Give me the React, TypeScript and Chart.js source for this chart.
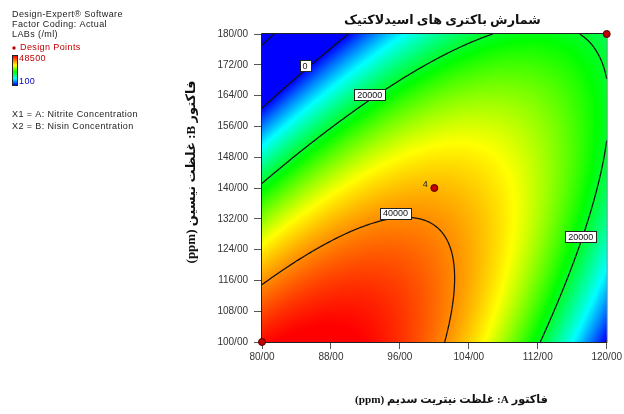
import React, { useEffect, useRef } from 'react';
import { Chart, registerables } from 'chart.js';

Chart.register(...registerables);

// ---------------- data ----------------
const chartTitle = 'شمارش باکتری های اسیدلاکتیک';
const xAxisTitle = 'فاکتور A: غلظت نیتریت سدیم (ppm)';
const yAxisTitle = 'فاکتور B: غلظت نیسین (ppm)';

const factorATicks = [80, 88, 96, 104, 112, 120];
const factorBTicks = [100, 108, 116, 124, 132, 140, 148, 156, 164, 172, 180];

// quadratic response-surface model (coded units), estimated from the contours
const modelTerms = ['Intercept', 'A', 'B', 'AB', 'A^2', 'B^2'];
const modelCoefficients = [37316, -1539, -13295, 22550, -17765, -9101];
const responseRange = [100, 48500];

const contourLevels = [-20000, 0, 20000, 40000];
const contourLabelText = ['0', '20000', '40000', '20000'];
const contourLabelA = [85, 92.5, 95.5, 117];
const contourLabelB = [171.7, 164.2, 133.5, 127.3];

const designPointA = [80, 100, 120];
const designPointB = [100, 140, 180];
const designPointRuns = [1, 4, 1];

const infoLines = ['Design-Expert® Software', 'Factor Coding: Actual', 'LABs (/ml)'];
const designPointsLabel = 'Design Points';
const factorLines = ['X1 = A: Nitrite Concentration', 'X2 = B: Nisin Concentration'];

// ---------------- helpers ----------------
const aMin = factorATicks[0];
const aMax = factorATicks[factorATicks.length - 1];
const bMin = factorBTicks[0];
const bMax = factorBTicks[factorBTicks.length - 1];

function response(A: number, B: number): number {
  const a = (A - (aMin + aMax) / 2) / ((aMax - aMin) / 2);
  const b = (B - (bMin + bMax) / 2) / ((bMax - bMin) / 2);
  const terms = [1, a, b, a * b, a * a, b * b];
  let s = 0;
  for (let i = 0; i < modelTerms.length; i++) s += modelCoefficients[i] * terms[i];
  return s;
}

const colorStops = [
  [0, 0, 255],
  [0, 255, 255],
  [0, 255, 0],
  [255, 255, 0],
  [255, 0, 0],
];
const colorStopPos = [0, 0.22, 0.45, 0.68, 1];

function colorFor(v: number): number[] {
  let t = (v - responseRange[0]) / (responseRange[1] - responseRange[0]);
  t = Math.max(0, Math.min(1, t));
  let i = 0;
  while (i < colorStopPos.length - 2 && t > colorStopPos[i + 1]) i++;
  const f = (t - colorStopPos[i]) / (colorStopPos[i + 1] - colorStopPos[i]);
  const c0 = colorStops[i];
  const c1 = colorStops[i + 1];
  return [0, 1, 2].map((k) => Math.round(c0[k] + (c1[k] - c0[k]) * f));
}

const fmt = (v: number) => Number(v).toFixed(2).replace('.', '/');
const tickFont = { family: '"Liberation Sans", Arial, sans-serif', size: 10 };
const titleFamily = '"Liberation Serif", "DejaVu Sans", serif';

function fitBold(ctx: CanvasRenderingContext2D, text: string, target: number) {
  ctx.font = `bold 14px ${titleFamily}`;
  const w = ctx.measureText(text).width;
  let size = (14 * target) / w;
  size = Math.max(10, Math.min(17, size));
  ctx.font = `bold ${size.toFixed(2)}px ${titleFamily}`;
}

const surfacePlugin = {
  id: 'surface',
  beforeDatasetsDraw(chart: any) {
    const { ctx, chartArea: ca, scales } = chart;
    const xs = scales.x;
    const ys = scales.y;
    const w = Math.round(ca.right - ca.left);
    const h = Math.round(ca.bottom - ca.top);
    const off = document.createElement('canvas');
    off.width = w;
    off.height = h;
    const octx = off.getContext('2d')!;
    const img = octx.createImageData(w, h);
    for (let j = 0; j < h; j++) {
      const B = ys.getValueForPixel(ca.top + j + 0.5);
      for (let i = 0; i < w; i++) {
        const A = xs.getValueForPixel(ca.left + i + 0.5);
        const c = colorFor(response(A, B));
        const k = (j * w + i) * 4;
        img.data[k] = c[0];
        img.data[k + 1] = c[1];
        img.data[k + 2] = c[2];
        img.data[k + 3] = 255;
      }
    }
    octx.putImageData(img, 0, 0);
    ctx.save();
    ctx.drawImage(off, ca.left, ca.top, w, h);

    // contours with marching squares in data space
    const N = 220;
    const vals: number[][] = [];
    for (let i = 0; i <= N; i++) {
      const row: number[] = [];
      const A = aMin + ((aMax - aMin) * i) / N;
      for (let j = 0; j <= N; j++) {
        const B = bMin + ((bMax - bMin) * j) / N;
        row.push(response(A, B));
      }
      vals.push(row);
    }
    const px = (i: number) => xs.getPixelForValue(aMin + ((aMax - aMin) * i) / N);
    const py = (j: number) => ys.getPixelForValue(bMin + ((bMax - bMin) * j) / N);
    ctx.strokeStyle = '#111';
    ctx.lineWidth = 1.25;
    ctx.beginPath();
    for (const L of contourLevels) {
      for (let i = 0; i < N; i++) {
        for (let j = 0; j < N; j++) {
          const corners = [
            [i, j],
            [i + 1, j],
            [i + 1, j + 1],
            [i, j + 1],
          ];
          const pts: number[][] = [];
          for (let e = 0; e < 4; e++) {
            const p = corners[e];
            const q = corners[(e + 1) % 4];
            const v1 = vals[p[0]][p[1]] - L;
            const v2 = vals[q[0]][q[1]] - L;
            if ((v1 < 0) !== (v2 < 0)) {
              const f = v1 / (v1 - v2);
              const gi = p[0] + (q[0] - p[0]) * f;
              const gj = p[1] + (q[1] - p[1]) * f;
              pts.push([px(gi), py(gj)]);
            }
          }
          for (let k = 0; k + 1 < pts.length; k += 2) {
            ctx.moveTo(pts[k][0], pts[k][1]);
            ctx.lineTo(pts[k + 1][0], pts[k + 1][1]);
          }
        }
      }
    }
    ctx.stroke();

    // contour labels
    ctx.font = '9px "Liberation Sans", Arial, sans-serif';
    ctx.textAlign = 'center';
    ctx.textBaseline = 'middle';
    for (let k = 0; k < contourLabelText.length; k++) {
      const x = xs.getPixelForValue(contourLabelA[k]);
      const y = ys.getPixelForValue(contourLabelB[k]);
      const tw = ctx.measureText(contourLabelText[k]).width;
      const bw = Math.round(tw + 6);
      const bh = 11;
      const bx = Math.round(x - bw / 2) + 0.5;
      const by = Math.round(y - bh / 2) + 0.5;
      ctx.fillStyle = '#ffffff';
      ctx.fillRect(bx, by, bw, bh);
      ctx.strokeStyle = '#222';
      ctx.lineWidth = 1;
      ctx.strokeRect(bx, by, bw, bh);
      ctx.fillStyle = '#111';
      ctx.fillText(contourLabelText[k], x, y + 0.5);
    }

    // frame
    ctx.lineWidth = 1;
    ctx.strokeStyle = '#222';
    ctx.beginPath();
    ctx.moveTo(ca.left - 0.5, ca.top - 0.5);
    ctx.lineTo(ca.right + 0.5, ca.top - 0.5);
    ctx.moveTo(ca.left - 0.5, ca.top - 0.5);
    ctx.lineTo(ca.left - 0.5, ca.bottom + 0.5);
    ctx.lineTo(ca.right + 0.5, ca.bottom + 0.5);
    ctx.stroke();
    ctx.strokeStyle = '#888';
    ctx.beginPath();
    ctx.moveTo(ca.right + 0.5, ca.top - 0.5);
    ctx.lineTo(ca.right + 0.5, ca.bottom + 0.5);
    ctx.stroke();
    ctx.restore();
  },
  afterDatasetsDraw(chart: any) {
    const { ctx } = chart;
    const meta = chart.getDatasetMeta(0);
    ctx.save();
    ctx.font = '9px "Liberation Sans", Arial, sans-serif';
    ctx.fillStyle = '#222';
    ctx.textAlign = 'center';
    ctx.textBaseline = 'middle';
    meta.data.forEach((pt: any, i: number) => {
      if (designPointRuns[i] > 1) ctx.fillText(String(designPointRuns[i]), pt.x - 9, pt.y - 3);
    });
    ctx.restore();
  },
  afterDraw(chart: any) {
    const { ctx, chartArea: ca } = chart;
    ctx.save();
    const cx = (ca.left + ca.right) / 2;
    const cy = (ca.top + ca.bottom) / 2;
    ctx.fillStyle = '#111';
    ctx.textAlign = 'center';
    ctx.textBaseline = 'middle';
    (ctx as any).direction = 'rtl';
    fitBold(ctx, chartTitle, 197);
    ctx.fillText(chartTitle, cx + 8, ca.top - 13);
    fitBold(ctx, xAxisTitle, 193);
    ctx.fillText(xAxisTitle, cx + 17, ca.bottom + 58);
    ctx.save();
    ctx.translate(ca.left - 70, cy - 16);
    ctx.rotate(-Math.PI / 2);
    fitBold(ctx, yAxisTitle, 183);
    ctx.fillText(yAxisTitle, 0, 0);
    ctx.restore();

    // info block
    (ctx as any).direction = 'ltr';
    (ctx as any).letterSpacing = '0.4px';
    ctx.textAlign = 'left';
    ctx.font = '9px "Liberation Sans", Arial, sans-serif';
    ctx.fillStyle = '#222';
    infoLines.forEach((t, i) => ctx.fillText(t, 12, 15 + i * 10));
    ctx.fillStyle = '#c00000';
    ctx.beginPath();
    ctx.arc(14, 48, 1.7, 0, Math.PI * 2);
    ctx.fill();
    ctx.fillText(designPointsLabel, 20, 48);
    const grad = ctx.createLinearGradient(0, 56, 0, 85);
    colorStops.forEach((c, i) => grad.addColorStop(1 - colorStopPos[i], `rgb(${c[0]},${c[1]},${c[2]})`));
    ctx.fillStyle = grad;
    ctx.fillRect(13, 56, 4, 29);
    ctx.strokeStyle = '#222';
    ctx.lineWidth = 1;
    ctx.strokeRect(12.5, 55.5, 5, 30);
    ctx.fillStyle = '#c00000';
    ctx.fillText(String(responseRange[1]), 19, 59);
    ctx.fillStyle = '#0000cc';
    ctx.fillText(String(responseRange[0]), 19, 82);
    ctx.fillStyle = '#222';
    factorLines.forEach((t, i) => ctx.fillText(t, 12, 115 + i * 12));
    ctx.restore();
  },
};

export default function App() {
  const ref = useRef<HTMLCanvasElement | null>(null);
  useEffect(() => {
    if (!ref.current) return;
    const chart = new Chart(ref.current, {
      type: 'scatter',
      data: {
        datasets: [
          {
            label: designPointsLabel,
            data: designPointA.map((a, i) => ({ x: a, y: designPointB[i] })),
            pointRadius: 3.5,
            pointBackgroundColor: '#c00000',
            pointBorderColor: '#500000',
            pointBorderWidth: 1,
            clip: false as any,
          },
        ],
      },
      options: {
        responsive: false,
        animation: false,
        events: [],
        layout: { padding: { top: 34, right: 16, left: 0, bottom: 0 } },
        plugins: { legend: { display: false }, tooltip: { enabled: false } },
        scales: {
          x: {
            type: 'linear',
            min: aMin,
            max: aMax,
            afterBuildTicks: (s: any) => {
              s.ticks = factorATicks.map((v) => ({ value: v }));
            },
            afterFit: (s: any) => {
              s.height = 72;
            },
            grid: { drawOnChartArea: false, drawTicks: true, tickLength: 7, color: '#555' },
            border: { display: false },
            ticks: {
              padding: 2,
              font: tickFont,
              color: '#333',
              maxRotation: 0,
              autoSkip: false,
              callback: (v: any) => fmt(v),
            },
          },
          y: {
            type: 'linear',
            min: bMin,
            max: bMax,
            afterBuildTicks: (s: any) => {
              s.ticks = factorBTicks.map((v) => ({ value: v }));
            },
            afterFit: (s: any) => {
              s.width = 262;
            },
            grid: { drawOnChartArea: false, drawTicks: true, tickLength: 8, color: '#555' },
            border: { display: false },
            ticks: {
              padding: 6,
              font: tickFont,
              color: '#333',
              autoSkip: false,
              callback: (v: any) => fmt(v),
            },
          },
        },
      },
      plugins: [surfacePlugin],
    });
    return () => chart.destroy();
  }, []);
  return (
    <div style={{ position: 'fixed', left: 0, top: 0, width: 624, height: 414, background: '#fff' }}>
      <canvas ref={ref} width={624} height={414} />
    </div>
  );
}
